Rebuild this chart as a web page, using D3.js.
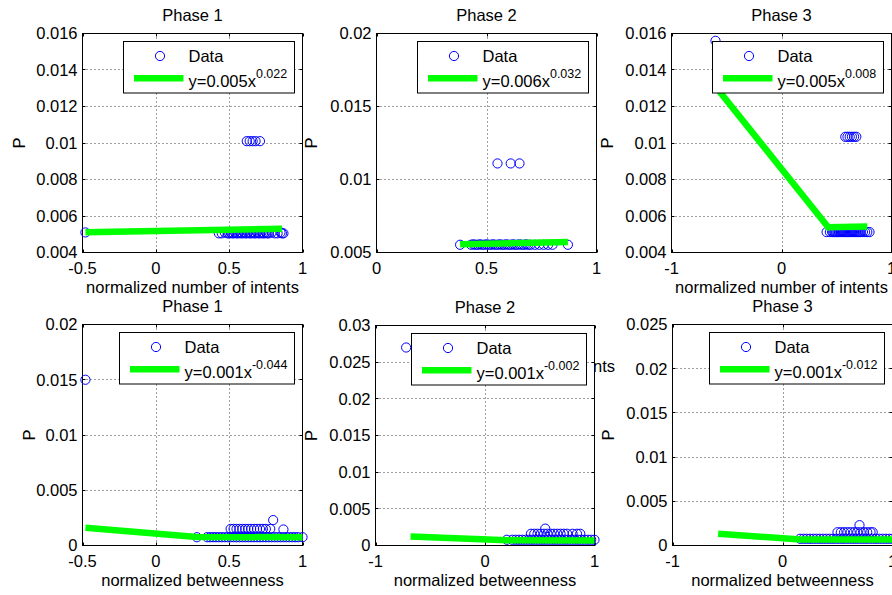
<!DOCTYPE html>
<html><head><meta charset="utf-8">
<script src="https://cdn.jsdelivr.net/npm/d3@7"></script>
<style>
body{margin:0;background:#fff}
svg{display:block}
text{font-family:"Liberation Sans",Arial,Helvetica,sans-serif;fill:#000}
</style>
</head><body>
<svg id="chart" width="892" height="595"></svg>
<script>
// ---------------- DATA ----------------
const titles = ["Phase 1","Phase 2","Phase 3","Phase 1","Phase 2","Phase 3"];
const xLabels = ["normalized number of intents","","normalized number of intents",
                 "normalized betweenness","normalized betweenness","normalized betweenness"];
const yLabel = "P";
const xDomains = [[-0.5,1],[0,1],[-1,1],[-0.5,1],[-1,1],[-1,1]];
const yDomains = [[0.004,0.016],[0.005,0.02],[0.004,0.016],[0,0.02],[0,0.03],[0,0.025]];
const xTicks = [[-0.5,0,0.5,1],[0,0.5,1],[-1,0,1],[-0.5,0,0.5,1],[-1,0,1],[-1,0,1]];
const yTicks = [
  [0.004,0.006,0.008,0.01,0.012,0.014,0.016],
  [0.005,0.01,0.015,0.02],
  [0.004,0.006,0.008,0.01,0.012,0.014,0.016],
  [0,0.005,0.01,0.015,0.02],
  [0,0.005,0.01,0.015,0.02,0.025,0.03],
  [0,0.005,0.01,0.015,0.02,0.025]
];
const legendData = "Data";
const fitCoef = ["0.005","0.006","0.005","0.001","0.001","0.001"];
const fitExp  = ["0.022","0.032","0.008","-0.044","-0.002","-0.012"];
// visible tail of an x-label that is otherwise hidden behind the lower-middle axes
const strayLabel = "nts";

const intents1 = [[-0.48,0.0051],
  [0.43,0.00505],[0.45,0.00505],[0.47,0.0051],[0.49,0.00505],[0.5,0.00505],[0.51,0.0051],[0.52,0.00505],
  [0.53,0.00505],[0.54,0.0051],[0.55,0.00505],[0.56,0.00505],[0.57,0.0051],[0.58,0.00505],[0.59,0.00505],
  [0.6,0.0051],[0.61,0.00505],[0.62,0.00505],[0.63,0.0051],[0.64,0.00505],[0.65,0.00505],[0.66,0.0051],
  [0.67,0.00505],[0.68,0.00505],[0.69,0.0051],[0.7,0.00505],[0.71,0.00505],[0.72,0.0051],[0.73,0.00505],
  [0.74,0.00505],[0.75,0.0051],[0.76,0.00505],[0.77,0.00505],[0.79,0.0051],[0.81,0.00505],[0.83,0.00505],
  [0.85,0.0051],[0.86,0.00505],[0.87,0.00505],
  [0.62,0.0101],[0.64,0.0101],[0.66,0.0101],[0.68,0.0101],[0.71,0.0101]];
const intents2 = [
  [0.38,0.00553],[0.43,0.00553],[0.44,0.00556],[0.45,0.00553],[0.46,0.00553],[0.47,0.00556],[0.48,0.00553],
  [0.49,0.00553],[0.5,0.00556],[0.51,0.00553],[0.52,0.00553],[0.53,0.00556],[0.54,0.00553],[0.55,0.00553],
  [0.56,0.00556],[0.57,0.00553],[0.58,0.00553],[0.59,0.00556],[0.6,0.00553],[0.61,0.00553],[0.62,0.00556],
  [0.63,0.00553],[0.64,0.00553],[0.65,0.00556],[0.66,0.00553],[0.67,0.00553],[0.68,0.00556],[0.69,0.00553],
  [0.7,0.00553],[0.72,0.00553],[0.74,0.00553],[0.76,0.00553],[0.78,0.00553],[0.8,0.00553],[0.87,0.00553],
  [0.55,0.0111],[0.61,0.0111],[0.65,0.0111]];
const intents3 = [[-0.6,0.0156],
  [0.41,0.00512],[0.44,0.00512],[0.46,0.00512],[0.47,0.00512],[0.48,0.00512],[0.49,0.00512],[0.5,0.00512],
  [0.51,0.00512],[0.52,0.00512],[0.53,0.00512],[0.54,0.00512],[0.55,0.00512],[0.56,0.00512],[0.57,0.00512],
  [0.58,0.00512],[0.59,0.00512],[0.6,0.00512],[0.61,0.00512],[0.62,0.00512],[0.63,0.00512],[0.64,0.00512],
  [0.65,0.00512],[0.66,0.00512],[0.67,0.00512],[0.68,0.00512],[0.69,0.00512],[0.7,0.00512],[0.71,0.00512],
  [0.72,0.00512],[0.74,0.00512],[0.76,0.00512],[0.78,0.00512],[0.8,0.00512],
  [0.58,0.01034],[0.6,0.01034],[0.62,0.01034],[0.64,0.01034],[0.66,0.01034],[0.68,0.01034]];
const betw1 = [[-0.48,0.015],
  [0.28,0.00075],[0.35,0.00075],[0.37,0.00075],[0.39,0.00075],[0.41,0.00075],[0.43,0.00075],[0.45,0.00075],
  [0.47,0.00075],[0.49,0.00075],[0.51,0.00075],[0.53,0.00075],[0.55,0.00075],[0.57,0.00075],[0.59,0.00075],
  [0.61,0.00075],[0.63,0.00075],[0.65,0.00075],[0.67,0.00075],[0.69,0.00075],[0.71,0.00075],[0.73,0.00075],
  [0.75,0.00075],[0.77,0.00075],[0.79,0.00075],[0.81,0.00075],[0.83,0.00075],[0.85,0.00075],[0.87,0.00075],
  [0.89,0.00075],[0.91,0.00075],[0.93,0.00075],[0.95,0.00075],[0.97,0.00075],[1.0,0.00075],
  [0.51,0.0015],[0.53,0.0015],[0.55,0.0015],[0.57,0.0015],[0.59,0.0015],[0.61,0.0015],[0.63,0.0015],
  [0.65,0.0015],[0.67,0.0015],[0.69,0.0015],[0.71,0.0015],[0.73,0.0015],[0.75,0.0015],[0.78,0.0015],
  [0.87,0.00145],[0.8,0.0023]];
const betw2 = [[-0.72,0.027],
  [0.2,0.00078],[0.25,0.00078],[0.28,0.00078],[0.31,0.00078],[0.34,0.00078],[0.37,0.00078],[0.4,0.00078],
  [0.43,0.00078],[0.46,0.00078],[0.49,0.00078],[0.52,0.00078],[0.55,0.00078],[0.58,0.00078],[0.61,0.00078],
  [0.64,0.00078],[0.67,0.00078],[0.7,0.00078],[0.73,0.00078],[0.76,0.00078],[0.79,0.00078],[0.82,0.00078],
  [0.85,0.00078],[0.88,0.00078],[0.91,0.00078],[0.94,0.00078],[0.97,0.00078],[1.0,0.00078],
  [0.42,0.0016],[0.45,0.0016],[0.48,0.0016],[0.51,0.0016],[0.54,0.0016],[0.57,0.0016],[0.6,0.0016],
  [0.63,0.0016],[0.66,0.0016],[0.69,0.0016],[0.72,0.0016],[0.75,0.0016],[0.8,0.0016],[0.84,0.0016],
  [0.87,0.0016],[0.55,0.0023]];
const betw3 = [[-0.59,0.021],
  [0.16,0.00076],[0.19,0.00076],[0.22,0.00076],[0.25,0.00076],[0.28,0.00076],[0.31,0.00076],[0.34,0.00076],
  [0.37,0.00076],[0.4,0.00076],[0.43,0.00076],[0.46,0.00076],[0.49,0.00076],[0.52,0.00076],[0.55,0.00076],
  [0.58,0.00076],[0.61,0.00076],[0.64,0.00076],[0.67,0.00076],[0.7,0.00076],[0.73,0.00076],[0.76,0.00076],
  [0.79,0.00076],[0.82,0.00076],[0.85,0.00076],[0.88,0.00076],[0.91,0.00076],[0.94,0.00076],[0.97,0.00076],
  [1.0,0.00076],
  [0.5,0.0015],[0.53,0.0015],[0.56,0.0015],[0.59,0.0015],[0.62,0.0015],[0.65,0.0015],[0.68,0.0015],
  [0.71,0.0015],[0.74,0.0015],[0.77,0.0015],[0.8,0.0015],[0.82,0.0015],[0.7,0.0023]];
const scatterSets = [intents1,intents2,intents3,betw1,betw2,betw3];

const fit1 = [[-0.48,0.00511],[0.86,0.0053]];
const fit2 = [[0.38,0.00556],[0.87,0.00572]];
const fit3 = [[-0.6,0.0131],[0.425,0.00538],[0.78,0.00542]];
const fit4 = [[-0.48,0.0016],[0.28,0.00078],[1.0,0.00074]];
const fit5 = [[-0.68,0.00124],[0.2,0.00072],[1.0,0.00068]];
const fit6 = [[-0.585,0.00133],[0.16,0.00069],[1.0,0.00068]];
const fitSets = [fit1,fit2,fit3,fit4,fit5,fit6];

// ---------------- LAYOUT ----------------
const boxes = [
  {l:82.5,r:302.5,t:33.5,b:252.5, yl:25},
  {l:376.5,r:596.5,t:33.5,b:252.5, yl:317},
  {l:671.5,r:891.5,t:33.5,b:252.5, yl:612.5},
  {l:82.5,r:302.5,t:324.5,b:545.5, yl:35},
  {l:375.5,r:594.5,t:325.5,b:545.5, yl:316.5},
  {l:672.5,r:892.5,t:324.5,b:545.5, yl:614}
];
const FS = 16.5, SUP = 12.5;
const fmt = v => String(+v.toFixed(4));

const svg = d3.select("#chart");
svg.append("rect").attr("width",892).attr("height",595).attr("fill","#fff");

boxes.forEach((B,i) => {
  const g = svg.append("g");
  const x = d3.scaleLinear().domain(xDomains[i]).range([B.l,B.r]);
  const y = d3.scaleLinear().domain(yDomains[i]).range([B.b,B.t]);

  // axes background
  g.append("rect").attr("x",B.l).attr("y",B.t).attr("width",B.r-B.l).attr("height",B.b-B.t)
    .attr("fill","#fff");

  // grid (dotted)
  const grid = g.append("g").attr("stroke","#000").attr("stroke-width",1)
    .attr("stroke-dasharray","1,3").attr("opacity",0.75);
  xTicks[i].forEach(t => { const px = Math.round(x(t))+0.5;
    if (Math.abs(x(t)-B.l)>1 && Math.abs(x(t)-B.r)>1)
      grid.append("line").attr("x1",px).attr("x2",px).attr("y1",B.t).attr("y2",B.b); });
  yTicks[i].forEach(t => { const py = Math.round(y(t)-0.5)+0.5;
    if (Math.abs(y(t)-B.t)>1 && Math.abs(y(t)-B.b)>1)
      grid.append("line").attr("x1",B.l).attr("x2",B.r).attr("y1",py).attr("y2",py); });

  // box and inward ticks on all sides
  const ax = g.append("g").attr("stroke","#000").attr("stroke-width",1).attr("fill","none");
  ax.append("rect").attr("x",B.l).attr("y",B.t).attr("width",B.r-B.l).attr("height",B.b-B.t);
  const TL = 3;
  xTicks[i].forEach(t => { const px = Math.round(x(t))+0.5;
    ax.append("line").attr("x1",px).attr("x2",px).attr("y1",B.b).attr("y2",B.b-TL);
    ax.append("line").attr("x1",px).attr("x2",px).attr("y1",B.t).attr("y2",B.t+TL); });
  yTicks[i].forEach(t => { const py = Math.round(y(t)-0.5)+0.5;
    ax.append("line").attr("x1",B.l).attr("x2",B.l+TL).attr("y1",py).attr("y2",py);
    ax.append("line").attr("x1",B.r).attr("x2",B.r-TL).attr("y1",py).attr("y2",py); });

  // scatter
  g.append("g").selectAll("circle").data(scatterSets[i]).join("circle")
    .attr("cx",d=>x(d[0])).attr("cy",d=>y(d[1])).attr("r",4.6)
    .attr("fill","none").attr("stroke","#0000ff").attr("stroke-width",1);

  // fit line
  g.append("path").datum(fitSets[i])
    .attr("d", d3.line().x(d=>x(d[0])).y(d=>y(d[1])))
    .attr("fill","none").attr("stroke","#00ff00").attr("stroke-width",6.5)
    .attr("stroke-linejoin","miter");

  // tick labels
  xTicks[i].forEach(t => g.append("text").attr("x",x(t)).attr("y",B.b+21)
    .attr("text-anchor","middle").attr("font-size",FS).text(fmt(t)));
  yTicks[i].forEach(t => g.append("text").attr("x",B.l-5).attr("y",y(t)+5.8)
    .attr("text-anchor","end").attr("font-size",FS).text(fmt(t)));

  // title, labels
  g.append("text").attr("x",(B.l+B.r)/2).attr("y",B.t-12.5).attr("text-anchor","middle")
    .attr("font-size",FS).text(titles[i]);
  if (xLabels[i]) g.append("text").attr("x",(B.l+B.r)/2).attr("y",B.b+40).attr("text-anchor","middle")
    .attr("font-size",FS).text(xLabels[i]);
  g.append("text").attr("transform",`translate(${B.yl},${(B.t+B.b)/2}) rotate(-90)`)
    .attr("text-anchor","middle").attr("font-size",FS).text(yLabel);
  if (i===1) g.append("text").attr("x",615).attr("y",372).attr("text-anchor","end")
    .attr("font-size",FS).text(strayLabel);

  // legend
  const lg = g.append("g");
  const lbox = lg.append("rect").attr("fill","#fff").attr("stroke","#000").attr("stroke-width",1);
  const ltop = B.t + 7.5;
  const t2 = lg.append("text").attr("font-size",FS);
  t2.append("tspan").text("y=" + fitCoef[i] + "x");
  t2.append("tspan").attr("font-size",SUP).attr("dy",-9).text(fitExp[i]);
  const tw = t2.node().getComputedTextLength();
  const lw = Math.round(65 + tw + 7.6);
  const lleft = Math.round(B.r - 8.5 - lw) + 0.5;
  lbox.attr("x",lleft).attr("y",Math.round(ltop)+0.5).attr("width",lw).attr("height",51.5);
  t2.attr("x",lleft+65).attr("y",ltop+45.7);
  lg.append("circle").attr("cx",lleft+36.5).attr("cy",ltop+15).attr("r",4.6)
    .attr("fill","none").attr("stroke","#0000ff").attr("stroke-width",1);
  lg.append("text").attr("x",lleft+65).attr("y",ltop+21).attr("font-size",FS).text(legendData);
  lg.append("line").attr("x1",lleft+10.5).attr("x2",lleft+60).attr("y1",ltop+37.3).attr("y2",ltop+37.3)
    .attr("stroke","#00ff00").attr("stroke-width",6.5);
});
</script>
</body></html>
